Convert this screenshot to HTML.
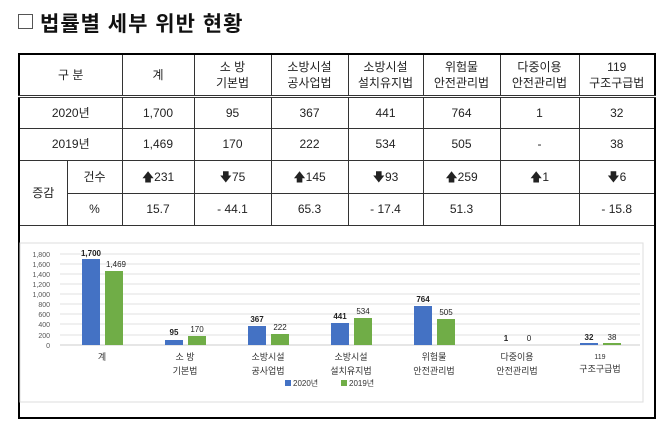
<!DOCTYPE html>
<html><head><meta charset="utf-8"><style>
body{margin:0;width:664px;height:430px;background:#fff;font-family:"Liberation Sans","Noto Sans CJK KR",sans-serif;position:relative;overflow:hidden}
.t{position:absolute;left:18px;top:8px;font-size:21px;font-weight:bold;color:#111;letter-spacing:1px}
.box{position:absolute;left:18px;top:14px;width:13px;height:13px;border:1px solid #555}
table{position:absolute;left:18px;top:53px;border-collapse:collapse;border:2px solid #000;font-size:12px;color:#222}
td{border:1px solid #333;text-align:center;padding:0;line-height:16px}
</style></head><body>
<div class="box"></div>
<div class="t" style="left:40px">법률별 세부 위반 현황</div>
<table>
<colgroup><col style="width:48px"><col style="width:55px"><col style="width:72px"><col style="width:77px"><col style="width:77px"><col style="width:75px"><col style="width:77px"><col style="width:79px"><col style="width:76px"></colgroup>
<tr style="height:42px;border-bottom:3px double #333"><td colspan="2">구 분</td><td>계</td><td>소 방<br>기본법</td><td>소방시설<br>공사업법</td><td>소방시설<br>설치유지법</td><td>위험물<br>안전관리법</td><td>다중이용<br>안전관리법</td><td>119<br>구조구급법</td></tr>
<tr style="height:32px"><td colspan="2">2020년</td><td>1,700</td><td>95</td><td>367</td><td>441</td><td>764</td><td>1</td><td>32</td></tr>
<tr style="height:32px"><td colspan="2">2019년</td><td>1,469</td><td>170</td><td>222</td><td>534</td><td>505</td><td>-</td><td>38</td></tr>
<tr style="height:33px"><td rowspan="2">증감</td><td>건수</td><td>🡅231</td><td>🡇75</td><td>🡅145</td><td>🡇93</td><td>🡅259</td><td>🡅1</td><td>🡇6</td></tr>
<tr style="height:32px"><td>%</td><td>15.7</td><td>- 44.1</td><td>65.3</td><td>- 17.4</td><td>51.3</td><td></td><td>- 15.8</td></tr>
<tr style="height:193px"><td colspan="9" style="border-top:1px solid #333"></td></tr>
</table>
<svg style="position:absolute;left:0;top:0" width="664" height="430" font-family="Liberation Sans,Noto Sans CJK KR,sans-serif">
<rect x="20" y="243" width="623" height="159" fill="none" stroke="#ddd"/>
<g stroke="#e2e2e2">
<line x1="60" x2="640" y1="254" y2="254"/><line x1="60" x2="640" y1="264" y2="264"/><line x1="60" x2="640" y1="274" y2="274"/><line x1="60" x2="640" y1="284" y2="284"/><line x1="60" x2="640" y1="294" y2="294"/><line x1="60" x2="640" y1="304" y2="304"/><line x1="60" x2="640" y1="314" y2="314"/><line x1="60" x2="640" y1="324" y2="324"/><line x1="60" x2="640" y1="335" y2="335"/></g>
<line x1="60" x2="640" y1="345" y2="345" stroke="#ccc"/>
<g font-size="7" fill="#555" text-anchor="end">
<text x="50" y="257">1,800</text><text x="50" y="267">1,600</text><text x="50" y="277">1,400</text><text x="50" y="287">1,200</text><text x="50" y="297">1,000</text><text x="50" y="307">800</text><text x="50" y="317">600</text><text x="50" y="327">400</text><text x="50" y="338">200</text><text x="50" y="348">0</text></g>
<g fill="#4472c4">
<rect x="82" y="259" width="18" height="86"/><rect x="165" y="340" width="18" height="5"/><rect x="248" y="326" width="18" height="19"/><rect x="331" y="323" width="18" height="22"/><rect x="414" y="306" width="18" height="39"/><rect x="580" y="343" width="18" height="2"/></g>
<g fill="#70ad47">
<rect x="105" y="271" width="18" height="74"/><rect x="188" y="336" width="18" height="9"/><rect x="271" y="334" width="18" height="11"/><rect x="354" y="318" width="18" height="27"/><rect x="437" y="319" width="18" height="26"/><rect x="603" y="343" width="18" height="2"/></g>
<g font-size="8" fill="#222" text-anchor="middle" font-weight="bold">
<text x="91" y="256">1,700</text><text x="174" y="335">95</text><text x="257" y="322">367</text><text x="340" y="319">441</text><text x="423" y="302">764</text><text x="506" y="341">1</text><text x="589" y="340">32</text></g>
<g font-size="8" fill="#222" text-anchor="middle">
<text x="116" y="267">1,469</text><text x="197" y="332">170</text><text x="280" y="330">222</text><text x="363" y="314">534</text><text x="446" y="315">505</text><text x="529" y="341">0</text><text x="612" y="340">38</text></g>
<g font-size="9" fill="#333" text-anchor="middle">
<text x="102" y="360">계</text>
<text x="185" y="360">소 방</text><text x="185" y="374">기본법</text>
<text x="268" y="360">소방시설</text><text x="268" y="374">공사업법</text>
<text x="351" y="360">소방시설</text><text x="351" y="374">설치유지법</text>
<text x="434" y="360">위험물</text><text x="434" y="374">안전관리법</text>
<text x="517" y="360">다중이용</text><text x="517" y="374">안전관리법</text>
<text x="600" y="359" font-size="7">119</text><text x="600" y="372">구조구급법</text></g>
<rect x="285" y="380" width="6" height="6" fill="#4472c4"/><text x="293" y="386" font-size="8" fill="#333">2020년</text>
<rect x="341" y="380" width="6" height="6" fill="#70ad47"/><text x="349" y="386" font-size="8" fill="#333">2019년</text>
</svg>
</body></html>
